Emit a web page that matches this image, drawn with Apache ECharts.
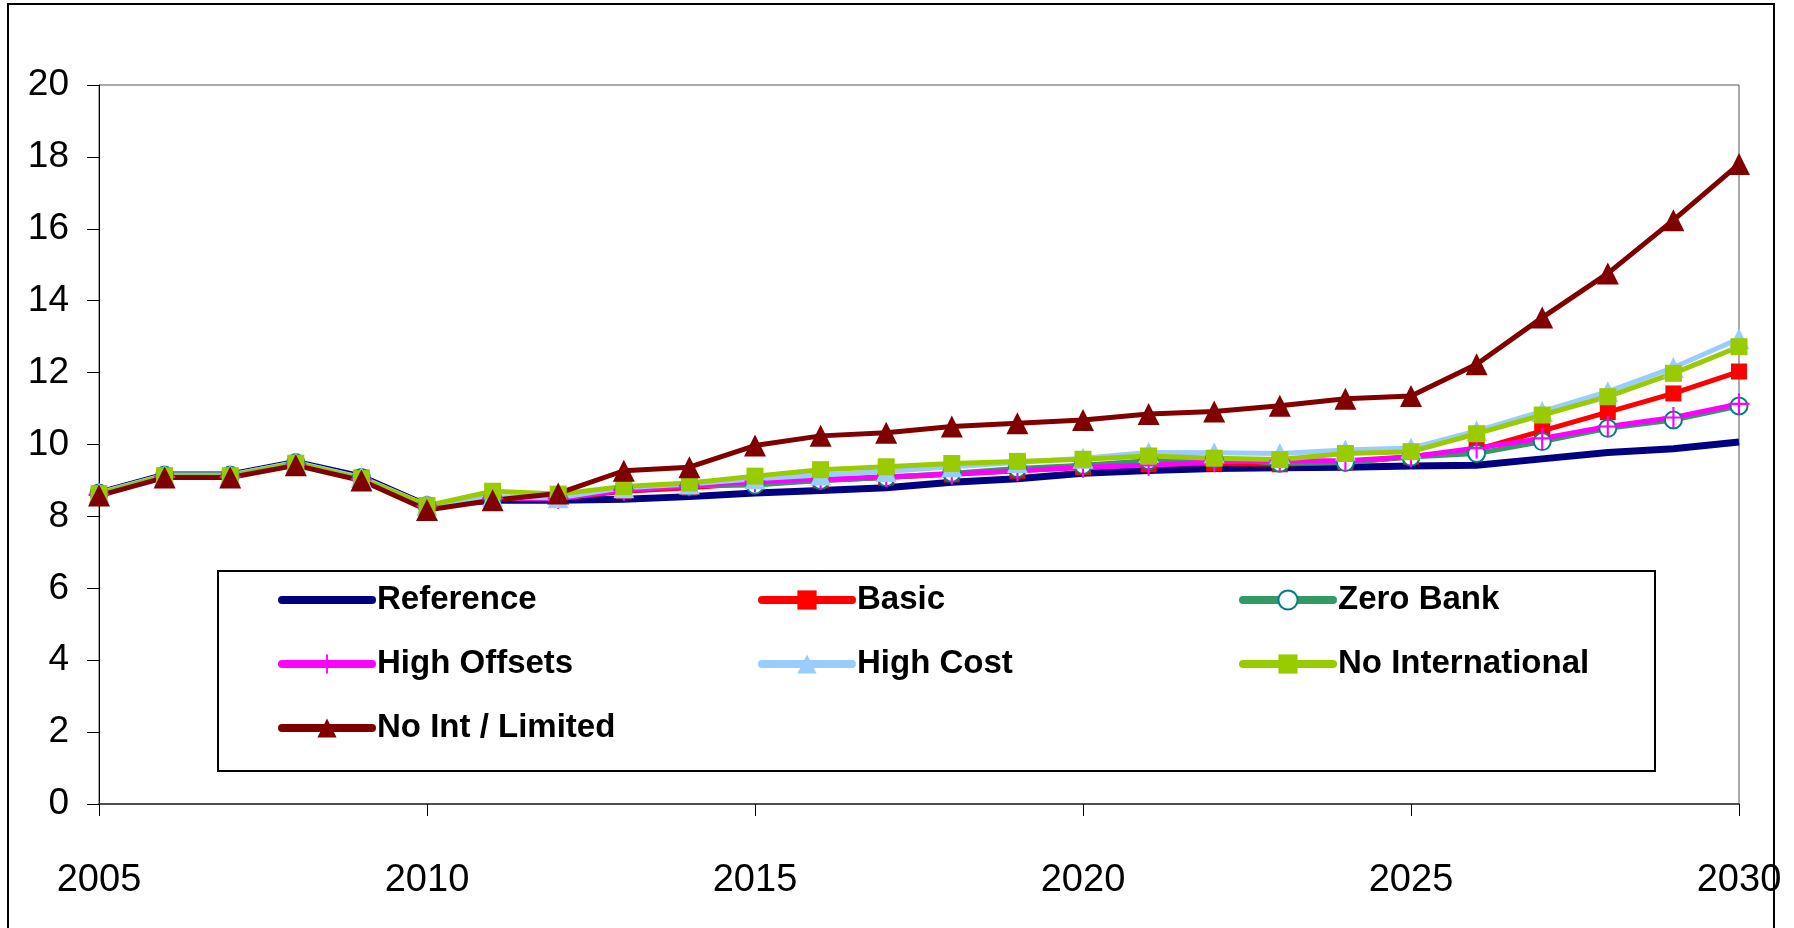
<!DOCTYPE html>
<html>
<head>
<meta charset="utf-8">
<script src="https://cdn.jsdelivr.net/npm/echarts@6/dist/echarts.min.js"></script>
<style>
  html, body { margin: 0; padding: 0; background: #fff; }
  #chart { width: 1794px; height: 928px; }
</style>
</head>
<body>
<div id="chart"></div>
<script>
// Years on the category axis
const years = [];
for (let y = 2005; y <= 2030; y++) years.push(String(y));

// Scenario values, one per year 2005..2030
const referenceVals = [8.65, 9.15, 9.15, 9.5, 9.1, 8.3, 8.45, 8.45, 8.48, 8.55, 8.65, 8.72, 8.8, 8.95, 9.05, 9.2, 9.28, 9.33, 9.35, 9.37, 9.4, 9.42, 9.6, 9.78, 9.88, 10.07];
const basicVals = [8.63, 9.13, 9.13, 9.48, 9.08, 8.3, 8.5, 8.5, 8.7, 8.8, 8.93, 9.0, 9.08, 9.17, 9.27, 9.37, 9.45, 9.47, 9.45, 9.5, 9.66, 9.86, 10.38, 10.9, 11.42, 12.03];
const zeroBankVals = [8.65, 9.15, 9.15, 9.5, 9.08, 8.3, 8.5, 8.5, 8.75, 8.85, 8.87, 9.0, 9.08, 9.2, 9.33, 9.42, 9.55, 9.6, 9.48, 9.5, 9.65, 9.75, 10.08, 10.45, 10.68, 11.07];
const highOffsetsVals = [8.6, 9.1, 9.1, 9.45, 9.03, 8.28, 8.5, 8.5, 8.73, 8.85, 8.97, 9.03, 9.1, 9.18, 9.27, 9.37, 9.42, 9.52, 9.55, 9.55, 9.66, 9.9, 10.17, 10.5, 10.75, 11.13];
const highCostVals = [8.65, 9.15, 9.15, 9.5, 9.08, 8.3, 8.55, 8.52, 8.8, 8.9, 9.05, 9.15, 9.25, 9.38, 9.5, 9.62, 9.78, 9.77, 9.75, 9.85, 9.9, 10.38, 10.92, 11.47, 12.14, 12.94];
const noInternationalVals = [8.63, 9.13, 9.13, 9.48, 9.05, 8.3, 8.7, 8.62, 8.83, 8.93, 9.12, 9.3, 9.38, 9.47, 9.53, 9.59, 9.68, 9.62, 9.58, 9.75, 9.8, 10.3, 10.82, 11.33, 11.98, 12.72];
const noIntLimitedVals = [8.58, 9.08, 9.08, 9.42, 9.0, 8.18, 8.45, 8.64, 9.27, 9.37, 9.97, 10.24, 10.33, 10.5, 10.59, 10.68, 10.85, 10.92, 11.08, 11.27, 11.35, 12.23, 13.53, 14.76, 16.24, 17.8];

// Value axis range
const yMin = 0, yMax = 20, yStep = 2;

const FONT = '"Liberation Sans", Arial, sans-serif';
const plusPath = 'path://M9,0 L11,0 L11,9 L20,9 L20,11 L11,11 L11,20 L9,20 L9,11 L0,11 L0,9 L9,9 Z';

function lineSeries(name, data, color, lineColor, width, symbol, size, extra) {
  return Object.assign({
    name: name,
    type: 'line',
    data: data,
    symbol: symbol,
    symbolSize: size,
    showSymbol: symbol !== 'none',
    lineStyle: { color: lineColor || color, width: width },
    itemStyle: { color: color },
    emphasis: { disabled: true },
    animation: false
  }, extra || {});
}

const series = [
  lineSeries('Reference', referenceVals, '#000080', '#000080', 7, 'none', 0),
  lineSeries('Basic', basicVals, '#FF0000', '#FF0000', 5, 'rect', 16),
  lineSeries('Zero Bank', zeroBankVals, '#008080', '#339966', 5, 'emptyCircle', 17,
    { itemStyle: { color: '#008080', borderColor: '#008080', borderWidth: 3 } }),
  lineSeries('High Offsets', highOffsetsVals, '#FF00FF', '#FF00FF', 5, plusPath, 21),
  lineSeries('High Cost', highCostVals, '#99CCFF', '#99CCFF', 5, 'triangle', [21, 21]),
  lineSeries('No International', noInternationalVals, '#99CC00', '#99CC00', 5, 'rect', 17),
  lineSeries('No Int / Limited', noIntLimitedVals, '#800000', '#800000', 5, 'triangle', [22, 22])
];

const legendText = { fontFamily: FONT, fontWeight: 'bold', fontSize: 33, color: '#000', lineHeight: 36 };
function legendCol(left, names) {
  return {
    data: names,
    orient: 'vertical',
    left: left,
    top: 582,
    itemWidth: 90,
    itemHeight: 24,
    itemGap: 28,
    selectedMode: false,
    textStyle: legendText,
    lineStyle: { width: 8, cap: 'round' },
    padding: 0
  };
}

const chart = echarts.init(document.getElementById('chart'), null, { renderer: 'canvas' });
chart.setOption({
  backgroundColor: '#fff',
  animation: false,
  grid: {
    left: 99, right: 55, top: 85, bottom: 124,
    show: true, borderColor: '#555', borderWidth: 1, backgroundColor: 'transparent'
  },
  xAxis: {
    type: 'category',
    data: years,
    boundaryGap: false,
    axisLine: { lineStyle: { color: '#333', width: 1.5 } },
    axisTick: { show: true, interval: 4, length: 12, lineStyle: { color: '#000' } },
    axisLabel: { interval: 4, margin: 58, fontFamily: FONT, fontSize: 38, color: '#000' },
    splitLine: { show: false }
  },
  yAxis: {
    type: 'value',
    min: yMin, max: yMax, interval: yStep,
    axisLine: { show: true, lineStyle: { color: '#000', width: 1 } },
    axisTick: { show: true, length: 12, lineStyle: { color: '#000' } },
    axisLabel: { margin: 30, fontFamily: FONT, fontSize: 37, color: '#000' },
    splitLine: { show: false }
  },
  legend: [
    legendCol(278, [
      { name: 'Reference', itemStyle: { color: 'rgba(0,0,0,0)', borderWidth: 0 } },
      'High Offsets', 'No Int / Limited'
    ]),
    legendCol(758, ['Basic', 'High Cost']),
    legendCol(1239, ['Zero Bank', 'No International'])
  ],
  graphic: [
    {
      type: 'rect', z: -1,
      shape: { x: 218, y: 571, width: 1437, height: 200 },
      style: { fill: '#fff', stroke: '#000', lineWidth: 2 }
    },
    {
      type: 'rect', z: 100, silent: true,
      shape: { x: 8, y: 4, width: 1766, height: 940 },
      style: { fill: 'none', stroke: '#000', lineWidth: 2 }
    }
  ],
  series: series
});
</script>
</body>
</html>
